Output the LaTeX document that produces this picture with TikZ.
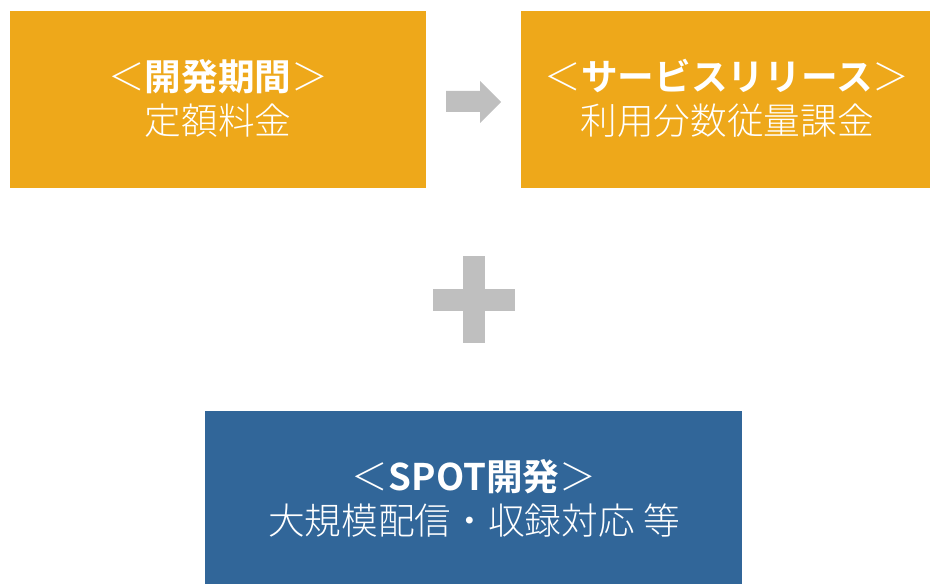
\documentclass[tikz,border=0pt]{standalone}
\usepackage{fontspec}
\newfontfamily\cjk{Noto Sans CJK JP Light}[BoldFont={Noto Sans CJK JP Bold}]
\definecolor{boxorange}{RGB}{238,168,26}
\definecolor{boxblue}{RGB}{49,102,153}
\definecolor{symgray}{RGB}{191,191,191}
\begin{document}
\begin{tikzpicture}[x=0.75pt,y=-0.75pt,
  panel/.style={fill=#1,draw=none,inner sep=0pt},
  label/.style={text=white,align=center,font=\cjk\fontsize{27.5}{33}\selectfont,inner sep=0pt},
  sym/.style={fill=symgray,draw=none}]
\useasboundingbox (0,0) rectangle (930,584);
% boxes
\path[panel=boxorange] (10,11) rectangle (426,188);
\path[panel=boxorange] (521,11) rectangle (930,188);
\path[panel=boxblue] (205,411) rectangle (742,584);
\node[label] (dev) at (218,98.5) {＜\textbf{開発期間}＞\\定額料金};
\node[label] (rel) at (727,98.5) {＜\textbf{サービスリリース}＞\\利用分数従量課金};
\node[label] (spot) at (474,498) {＜\textbf{SPOT開発}＞\\大規模配信・収録対応 等};
% arrow
\path[sym] (446,91) -- (480,91) -- (480,81) -- (501,102) -- (480,123) -- (480,112) -- (446,112) -- cycle;
% plus
\path[sym] (463,256) rectangle (485,343);
\path[sym] (433,289) rectangle (515,311);
\end{tikzpicture}
\end{document}
